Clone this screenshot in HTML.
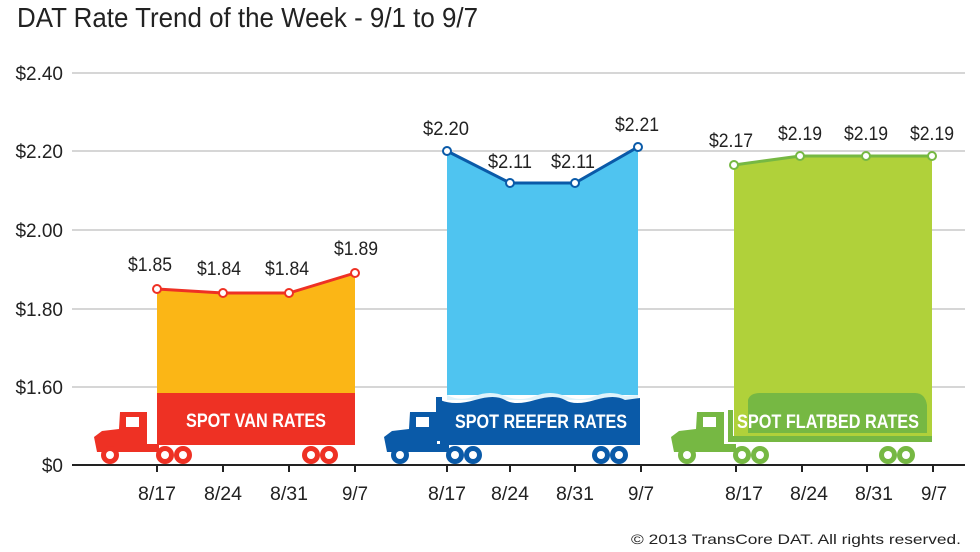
<!DOCTYPE html>
<html><head><meta charset="utf-8"><style>
html,body{margin:0;padding:0;background:#fff;}
svg{display:block;font-family:"Liberation Sans",sans-serif;}
.n{font-family:"Liberation Sans",sans-serif;font-size:19px;fill:#222;}
</style></head><body>
<svg width="980" height="552" viewBox="0 0 980 552" xmlns="http://www.w3.org/2000/svg">
<defs>
<g id="truck">
  <path d="M-60,452 L-63,437 L-55,431 L-38,429 L-37,412 L-10,412 L-10,444 L2,444 L2,452 Z"/>
  <rect x="-31" y="417" width="13" height="10" fill="#fff"/>
  <circle cx="-47" cy="455" r="9"/><circle cx="8" cy="455" r="9"/><circle cx="26" cy="455" r="9"/>
  <circle cx="154" cy="455" r="9"/><circle cx="172" cy="455" r="9"/>
  <g fill="#fff"><circle cx="-47" cy="455" r="4"/><circle cx="8" cy="455" r="4"/><circle cx="26" cy="455" r="4"/><circle cx="154" cy="455" r="4"/><circle cx="172" cy="455" r="4"/></g>
</g>
</defs>
<text x="17" y="27" font-size="28" fill="#222" textLength="461" lengthAdjust="spacingAndGlyphs">DAT Rate Trend of the Week - 9/1 to 9/7</text>
<g stroke="#c8c8c8" stroke-width="1.5">
<line x1="72" y1="73" x2="965" y2="73"/><line x1="72" y1="151" x2="965" y2="151"/>
<line x1="72" y1="230" x2="965" y2="230"/><line x1="72" y1="309" x2="965" y2="309"/>
<line x1="72" y1="387" x2="965" y2="387"/>
</g>
<g class="n" text-anchor="end" font-size="18">
<text x="63" y="80" class="n">$2.40</text><text x="63" y="158" class="n">$2.20</text>
<text x="63" y="237" class="n">$2.00</text><text x="63" y="316" class="n">$1.80</text>
<text x="63" y="394" class="n">$1.60</text><text x="63" y="472" class="n">$0</text>
</g>
<!-- VAN -->
<path d="M157,289 L223,293 L289,293 L355,273 L355,393 L157,393 Z" fill="#fbb616"/>
<rect x="157" y="393" width="198" height="52" fill="#ee3124"/>
<g fill="#ee3124" transform="translate(157,0)"><use href="#truck"/></g>
<text x="256" y="427" text-anchor="middle" font-size="19" font-weight="bold" fill="#fff" textLength="140" lengthAdjust="spacingAndGlyphs">SPOT VAN RATES</text>
<polyline points="157,289 223,293 289,293 355,273" fill="none" stroke="#ee3124" stroke-width="3"/>
<g fill="#fff" stroke="#ee3124" stroke-width="2"><circle cx="157" cy="289" r="4"/><circle cx="223" cy="293" r="4"/><circle cx="289" cy="293" r="4"/><circle cx="355" cy="273" r="4"/></g>
<!-- REEFER -->
<path d="M447,151 L510,183 L575,183 L638,147 L638,395 L447,395 Z" fill="#4fc4f0"/>
<path d="M447,395 Q460,402 475,396 T505,396 T535,396 T565,396 T595,396 T625,396 L638,395 L638,400 L447,400Z" fill="#dff3fb"/>
<path d="M440,400 Q455,406 475,400 T505,400 T535,400 T565,400 T595,400 T625,400 L640,398 L640,445 L440,445 Z" fill="#0a5aa8"/>
<rect x="436" y="397" width="6" height="44" fill="#0a5aa8"/>
<g fill="#0a5aa8" transform="translate(447,0)"><use href="#truck"/></g>
<text x="541" y="428" text-anchor="middle" font-size="19" font-weight="bold" fill="#fff" textLength="172" lengthAdjust="spacingAndGlyphs">SPOT REEFER RATES</text>
<polyline points="447,151 510,183 575,183 638,147" fill="none" stroke="#0a5aa8" stroke-width="3"/>
<g fill="#fff" stroke="#0a5aa8" stroke-width="2"><circle cx="447" cy="151" r="4"/><circle cx="510" cy="183" r="4"/><circle cx="575" cy="183" r="4"/><circle cx="638" cy="147" r="4"/></g>
<!-- FLATBED -->
<path d="M734,165 L800,156 L866,156 L932,156 L932,441 L734,441 Z" fill="#b0d13a"/>
<path d="M748,433 L748,400 Q750,393 760,393 L915,393 Q925,393 927,405 L927,433 Z" fill="#76b843"/>
<rect x="733" y="436" width="199" height="6" fill="#76b843"/>
<rect x="728" y="410" width="5" height="32" fill="#76b843"/>
<g fill="#76b843" transform="translate(734,0)"><use href="#truck"/></g>
<text x="828" y="428" text-anchor="middle" font-size="19" font-weight="bold" fill="#fff" textLength="182" lengthAdjust="spacingAndGlyphs">SPOT FLATBED RATES</text>
<polyline points="734,165 800,156 866,156 932,156" fill="none" stroke="#76b843" stroke-width="3"/>
<g fill="#fff" stroke="#76b843" stroke-width="2"><circle cx="734" cy="165" r="4"/><circle cx="800" cy="156" r="4"/><circle cx="866" cy="156" r="4"/><circle cx="932" cy="156" r="4"/></g>
<!-- value labels -->
<g font-size="19" fill="#222" text-anchor="middle">
<text x="150" y="271" textLength="44" lengthAdjust="spacingAndGlyphs">$1.85</text>
<text x="219" y="275" textLength="44" lengthAdjust="spacingAndGlyphs">$1.84</text>
<text x="287" y="275" textLength="44" lengthAdjust="spacingAndGlyphs">$1.84</text>
<text x="356" y="255" textLength="44" lengthAdjust="spacingAndGlyphs">$1.89</text>
<text x="446" y="135" textLength="46" lengthAdjust="spacingAndGlyphs">$2.20</text>
<text x="510" y="168" textLength="44" lengthAdjust="spacingAndGlyphs">$2.11</text>
<text x="573" y="168" textLength="44" lengthAdjust="spacingAndGlyphs">$2.11</text>
<text x="637" y="131" textLength="44" lengthAdjust="spacingAndGlyphs">$2.21</text>
<text x="731" y="147" textLength="44" lengthAdjust="spacingAndGlyphs">$2.17</text>
<text x="800" y="140" textLength="44" lengthAdjust="spacingAndGlyphs">$2.19</text>
<text x="866" y="140" textLength="44" lengthAdjust="spacingAndGlyphs">$2.19</text>
<text x="932" y="140" textLength="44" lengthAdjust="spacingAndGlyphs">$2.19</text>
</g>
<!-- axis -->
<line x1="72" y1="465" x2="965" y2="465" stroke="#222" stroke-width="2"/>
<g stroke="#222" stroke-width="2">
<line x1="157" y1="465" x2="157" y2="472"/><line x1="223" y1="465" x2="223" y2="472"/><line x1="289" y1="465" x2="289" y2="472"/><line x1="355" y1="465" x2="355" y2="472"/>
<line x1="447" y1="465" x2="447" y2="472"/><line x1="510" y1="465" x2="510" y2="472"/><line x1="575" y1="465" x2="575" y2="472"/><line x1="641" y1="465" x2="641" y2="472"/>
<line x1="736" y1="465" x2="736" y2="472"/><line x1="802" y1="465" x2="802" y2="472"/><line x1="867" y1="465" x2="867" y2="472"/><line x1="933" y1="465" x2="933" y2="472"/>
</g>
<g font-size="19" fill="#222" text-anchor="middle">
<text x="157" y="500" textLength="38" lengthAdjust="spacingAndGlyphs">8/17</text>
<text x="223" y="500" textLength="38" lengthAdjust="spacingAndGlyphs">8/24</text>
<text x="289" y="500" textLength="38" lengthAdjust="spacingAndGlyphs">8/31</text>
<text x="355" y="500" textLength="26" lengthAdjust="spacingAndGlyphs">9/7</text>
<text x="447" y="500" textLength="38" lengthAdjust="spacingAndGlyphs">8/17</text>
<text x="510" y="500" textLength="38" lengthAdjust="spacingAndGlyphs">8/24</text>
<text x="575" y="500" textLength="38" lengthAdjust="spacingAndGlyphs">8/31</text>
<text x="641" y="500" textLength="26" lengthAdjust="spacingAndGlyphs">9/7</text>
<text x="744" y="500" textLength="38" lengthAdjust="spacingAndGlyphs">8/17</text>
<text x="809" y="500" textLength="38" lengthAdjust="spacingAndGlyphs">8/24</text>
<text x="874" y="500" textLength="38" lengthAdjust="spacingAndGlyphs">8/31</text>
<text x="934" y="500" textLength="26" lengthAdjust="spacingAndGlyphs">9/7</text>
</g>
<text x="961" y="544" text-anchor="end" font-size="14" fill="#222" textLength="330" lengthAdjust="spacingAndGlyphs">© 2013 TransCore DAT. All rights reserved.</text>
</svg>
</body></html>
